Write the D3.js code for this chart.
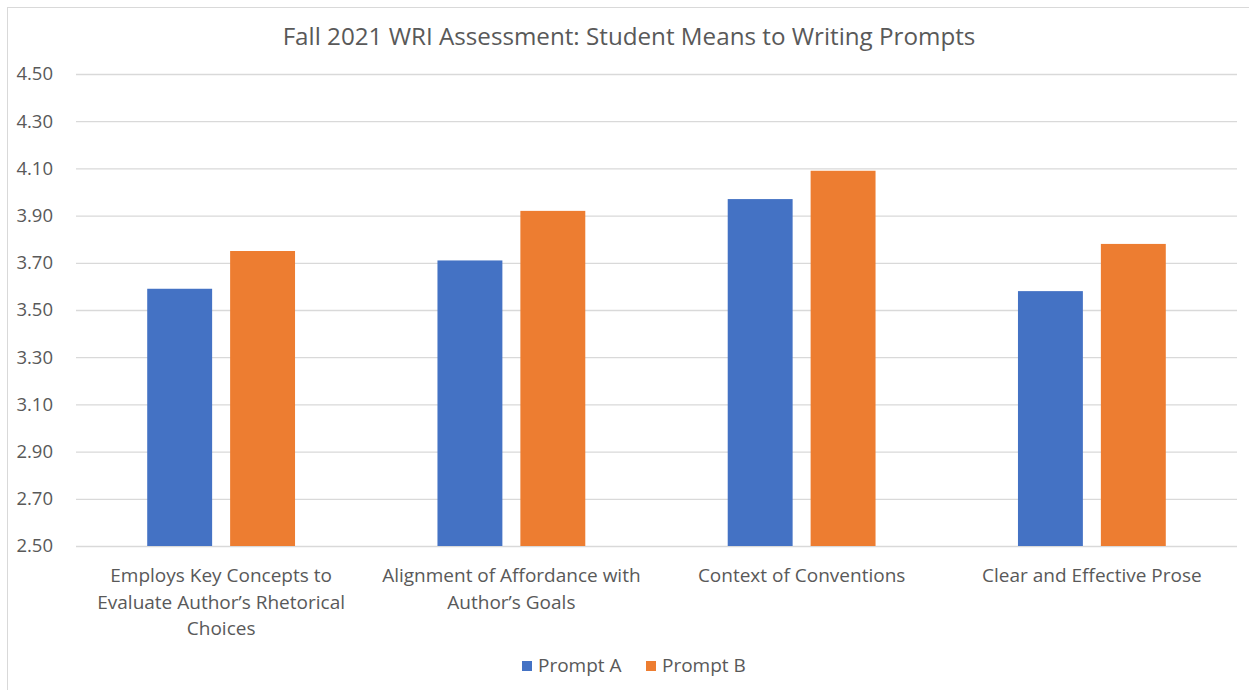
<!DOCTYPE html>
<html>
<head>
<meta charset="utf-8">
<script src="https://cdn.jsdelivr.net/npm/d3@7"></script>
<style>
  body { margin: 0; background: #fff; }
  svg { display: block; font-family: "Open Sans", "Noto Sans", sans-serif; }
</style>
</head>
<body>
<svg id="chart"></svg>
<script>
// data
const categories = [
  ["Employs Key Concepts to", "Evaluate Author\u2019s Rhetorical", "Choices"],
  ["Alignment of Affordance with", "Author\u2019s Goals"],
  ["Context of Conventions"],
  ["Clear and Effective Prose"]
];
const seriesNames = ["Prompt A", "Prompt B"];
const promptA = [3.59, 3.71, 3.97, 3.58];
const promptB = [3.75, 3.92, 4.09, 3.78];
const yTicks = [2.5, 2.7, 2.9, 3.1, 3.3, 3.5, 3.7, 3.9, 4.1, 4.3, 4.5];

const width = 1249;
const height = 690;
const marginTop = 74;
const marginLeft = 76;
const marginRight = 12;
const marginBottom = 144;

const colors = ["#4472C4", "#ED7D31"];
const textColor = "#595959";

const svg = d3.select("#chart")
    .attr("width", width)
    .attr("height", height)
    .attr("viewBox", [0, 0, width, height]);

// chart border
svg.append("rect")
    .attr("x", 7.5).attr("y", 7.5)
    .attr("width", width).attr("height", height)
    .attr("fill", "none")
    .attr("stroke", "#d9d9d9");

const keys = categories.map((d, i) => i);
const values = [promptA, promptB];

const x0 = d3.scaleBand()
    .domain(keys)
    .range([marginLeft, width - marginRight]);

const x1 = d3.scaleBand()
    .domain(seriesNames)
    .range([0, x0.bandwidth()])
    .paddingInner(0.217)
    .paddingOuter(0.859);

const y = d3.scaleLinear()
    .domain([2.5, 4.5])
    .range([height - marginBottom, marginTop]);

// gridlines + y labels
svg.append("g")
    .attr("transform", `translate(${marginLeft},0)`)
    .call(d3.axisLeft(y).tickValues(yTicks).tickFormat(d3.format(".2f")).tickSize(0).tickPadding(23))
    .call(g => g.select(".domain").remove())
    .call(g => g.selectAll(".tick text")
        .attr("fill", textColor)
        .attr("font-size", 18.5)
        .attr("font-family", "Open Sans, sans-serif"))
    .call(g => g.selectAll(".tick line").clone()
        .attr("x2", width - marginLeft - marginRight)
        .attr("stroke", "#d9d9d9")
        .attr("stroke-width", 1.3));

// bars
svg.append("g")
  .selectAll("g")
  .data(keys)
  .join("g")
    .attr("transform", i => `translate(${x0(i)},0)`)
  .selectAll("rect")
  .data(i => seriesNames.map((s, j) => ({s, j, v: values[j][i]})))
  .join("rect")
    .attr("x", d => x1(d.s))
    .attr("y", d => y(d.v))
    .attr("width", x1.bandwidth())
    .attr("height", d => y(2.5) - y(d.v))
    .attr("fill", d => colors[d.j]);

// category labels
const lab = svg.append("g")
  .selectAll("text")
  .data(keys)
  .join("text")
    .attr("x", i => x0(i) + x0.bandwidth() / 2)
    .attr("y", height - marginBottom + 36)
    .attr("text-anchor", "middle")
    .attr("fill", textColor)
    .attr("font-size", 19);
lab.selectAll("tspan")
  .data(i => categories[i])
  .join("tspan")
    .attr("x", function() { return d3.select(this.parentNode).attr("x"); })
    .attr("dy", (d, k) => k === 0 ? 0 : 26.5)
    .text(d => d);

// title
svg.append("text")
    .attr("x", 629)
    .attr("y", 45)
    .attr("text-anchor", "middle")
    .attr("fill", textColor)
    .attr("font-size", 24.2)
    .text("Fall 2021 WRI Assessment: Student Means to Writing Prompts");

// legend
const legend = svg.append("g")
    .attr("transform", "translate(522,0)");
const item = legend.selectAll("g")
  .data(seriesNames)
  .join("g")
    .attr("transform", (d, i) => `translate(${i * 124},0)`);
item.append("rect")
    .attr("x", 0).attr("y", 661)
    .attr("width", 10).attr("height", 10)
    .attr("fill", (d, i) => colors[i]);
item.append("text")
    .attr("x", 16).attr("y", 672)
    .attr("fill", textColor)
    .attr("font-size", 19)
    .text(d => d);
</script>
</body>
</html>
